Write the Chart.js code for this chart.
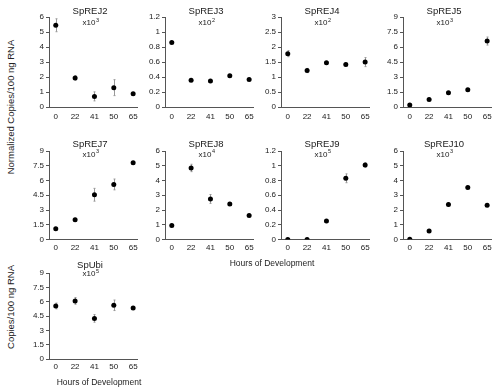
<!DOCTYPE html>
<html>
<head>
<meta charset="utf-8">
<script src="https://cdn.jsdelivr.net/npm/chart.js@4.4.0/dist/chart.umd.min.js"></script>
<style>
  body { margin: 0; background: #fff; }
  #wrap { position: relative; width: 500px; height: 390px; overflow: hidden;
          font-family: "Liberation Sans", Arial, sans-serif; color: #222; }
  #wrap canvas { position: absolute; }
  .ytitle { position: absolute; white-space: nowrap; font-size: 9.5px;
            transform: translate(-50%, -50%) rotate(-90deg); }
  .xtitle { position: absolute; white-space: nowrap; font-size: 8.5px; line-height: 10px;
            width: 120px; text-align: center; will-change: transform; transform: translateZ(0); }
</style>
</head>
<body>
<div id="wrap">
  <div class="ytitle" style="left:10px;top:107px">Normalized Copies/100 ng RNA</div>
  <div class="ytitle" style="left:10px;top:307px">Copies/100 ng RNA</div>
  <div class="xtitle" style="left:212px;top:258px">Hours of Development</div>
  <div class="xtitle" style="left:39px;top:377px">Hours of Development</div>
</div>
<script>
  // x categories (hours), evenly spaced in the original figure
  const hours = ['0', '22', '41', '50', '65'];

  const genes = ['SpREJ2', 'SpREJ3', 'SpREJ4', 'SpREJ5', 'SpREJ7', 'SpREJ8', 'SpREJ9', 'SpREJ10', 'SpUbi'];
  const exponents = ['3', '2', '2', '3', '3', '4', '5', '3', '5'];

  // means and error (+/-)
  const rej2 = [5.45, 1.95, 0.72, 1.3, 0.9];
  const rej2Err = [0.43, 0.15, 0.3, 0.53, 0.06];
  const rej3 = [0.86, 0.36, 0.35, 0.42, 0.37];
  const rej3Err = [0, 0, 0, 0, 0];
  const rej4 = [1.78, 1.22, 1.48, 1.42, 1.5];
  const rej4Err = [0.1, 0.07, 0.04, 0.05, 0.15];
  const rej5 = [0.22, 0.78, 1.45, 1.75, 6.6];
  const rej5Err = [0.1, 0.05, 0.08, 0.1, 0.4];
  const rej7 = [1.1, 2.0, 4.55, 5.6, 7.8];
  const rej7Err = [0.1, 0.15, 0.65, 0.55, 0.1];
  const rej8 = [0.95, 4.85, 2.75, 2.4, 1.62];
  const rej8Err = [0.08, 0.25, 0.3, 0.08, 0.08];
  const rej9 = [0, 0, 0.25, 0.83, 1.01];
  const rej9Err = [0, 0, 0.02, 0.06, 0.03];
  const rej10 = [0.02, 0.58, 2.37, 3.53, 2.33];
  const rej10Err = [0.05, 0.1, 0.12, 0.08, 0.1];
  const ubi = [5.55, 6.08, 4.25, 5.62, 5.35];
  const ubiErr = [0.3, 0.35, 0.4, 0.55, 0.1];

  // y tick ranges
  const yMax = [6, 1.2, 3, 9, 9, 6, 1.2, 6, 9];
  const yStep = [1, 0.2, 0.5, 1.5, 1.5, 1, 0.2, 1, 1.5];

  const values = [rej2, rej3, rej4, rej5, rej7, rej8, rej9, rej10, ubi];
  const errors = [rej2Err, rej3Err, rej4Err, rej5Err, rej7Err, rej8Err, rej9Err, rej10Err, ubiErr];

  // panel layout (plot area left/top/height in page pixels)
  const colLeft = [49, 165, 280.5, 402.5];
  const rowTop = [16.5, 150.5, 273];
  const rowHeight = [90.2, 88.5, 86];
  const titleDy = [[-5.5, 6], [-6.5, 3.5], [-8, 1]];
  const xLabelPad = [5, 3, 3];
  const plotW = 88, padL = 40, padT = 26, padR = 8, axisH = 20;

  Chart.defaults.font.family = "'Liberation Sans', Arial, sans-serif";
  Chart.defaults.font.size = 8;
  Chart.defaults.color = '#1a1a1a';

  const errorBars = {
    id: 'errorBars',
    beforeDatasetsDraw(chart, args, opts) {
      const { ctx, scales: { x, y } } = chart;
      ctx.save();
      ctx.strokeStyle = '#999';
      ctx.lineWidth = 1;
      opts.means.forEach((v, i) => {
        const e = opts.errs[i];
        if (!e) return;
        const px = Math.round(x.getPixelForValue(i)) + 0.5;
        const top = y.getPixelForValue(v + e);
        const bot = y.getPixelForValue(Math.max(v - e, 0));
        ctx.beginPath();
        ctx.moveTo(px, top); ctx.lineTo(px, bot);
        ctx.moveTo(px - 1, top); ctx.lineTo(px + 1, top);
        ctx.moveTo(px - 1, bot); ctx.lineTo(px + 1, bot);
        ctx.stroke();
      });
      ctx.restore();
    }
  };

  const panelTitle = {
    id: 'panelTitle',
    afterDraw(chart, args, opts) {
      const { ctx, chartArea } = chart;
      const cx = (chartArea.left + chartArea.right) / 2 - 3;
      ctx.save();
      ctx.fillStyle = '#1a1a1a';
      ctx.textBaseline = 'middle';
      ctx.textAlign = 'center';
      ctx.font = "9.5px 'Liberation Sans', Arial, sans-serif";
      ctx.fillText(opts.name, cx, chartArea.top + opts.dy[0]);
      ctx.font = "8px 'Liberation Sans', Arial, sans-serif";
      const base = 'x10';
      const w = ctx.measureText(base).width;
      ctx.textAlign = 'left';
      const sy = chartArea.top + opts.dy[1];
      ctx.fillText(base, cx - w / 2 - 1, sy);
      ctx.font = "5.5px 'Liberation Sans', Arial, sans-serif";
      ctx.fillText(opts.exp, cx + w / 2 - 0.5, sy - 3);
      ctx.restore();
    }
  };

  const wrap = document.getElementById('wrap');

  genes.forEach((name, k) => {
    const col = k < 8 ? k % 4 : 0;
    const row = Math.floor(k / 4);
    const H = rowHeight[row];
    const canvas = document.createElement('canvas');
    canvas.width = padL + plotW + padR;
    canvas.height = Math.ceil(padT + H + axisH);
    canvas.style.left = (colLeft[col] - padL) + 'px';
    canvas.style.top = (rowTop[row] - padT) + 'px';
    wrap.appendChild(canvas);

    new Chart(canvas, {
      type: 'scatter',
      data: {
        datasets: [{
          data: values[k].map((v, i) => ({ x: i, y: v })),
          backgroundColor: '#000',
          borderWidth: 0,
          pointRadius: 2.5
        }]
      },
      options: {
        responsive: false,
        animation: false,
        layout: { padding: { left: 0, top: padT, right: padR, bottom: canvas.height - padT - H - axisH } },
        plugins: {
          legend: { display: false },
          tooltip: { enabled: false },
          errorBars: { means: values[k], errs: errors[k] },
          panelTitle: { name, exp: exponents[k], dy: titleDy[row] }
        },
        scales: {
          x: {
            type: 'linear',
            min: -0.35,
            max: 4.2,
            afterBuildTicks: s => { s.ticks = hours.map((h, i) => ({ value: i })); },
            afterFit: s => { s.height = axisH; },
            grid: { display: false, drawTicks: false },
            border: { display: true, color: '#555' },
            ticks: { padding: xLabelPad[row], maxRotation: 0, autoSkip: false, callback: v => hours[v] }
          },
          y: {
            min: 0,
            max: yMax[k],
            afterFit: s => { s.width = padL; },
            grid: { drawOnChartArea: false, drawTicks: true, tickLength: 3, color: '#555' },
            border: { display: true, color: '#555' },
            ticks: { stepSize: yStep[k], padding: 2, callback: v => String(+v.toFixed(2)) }
          }
        }
      },
      plugins: [errorBars, panelTitle]
    });
  });
</script>
</body>
</html>
